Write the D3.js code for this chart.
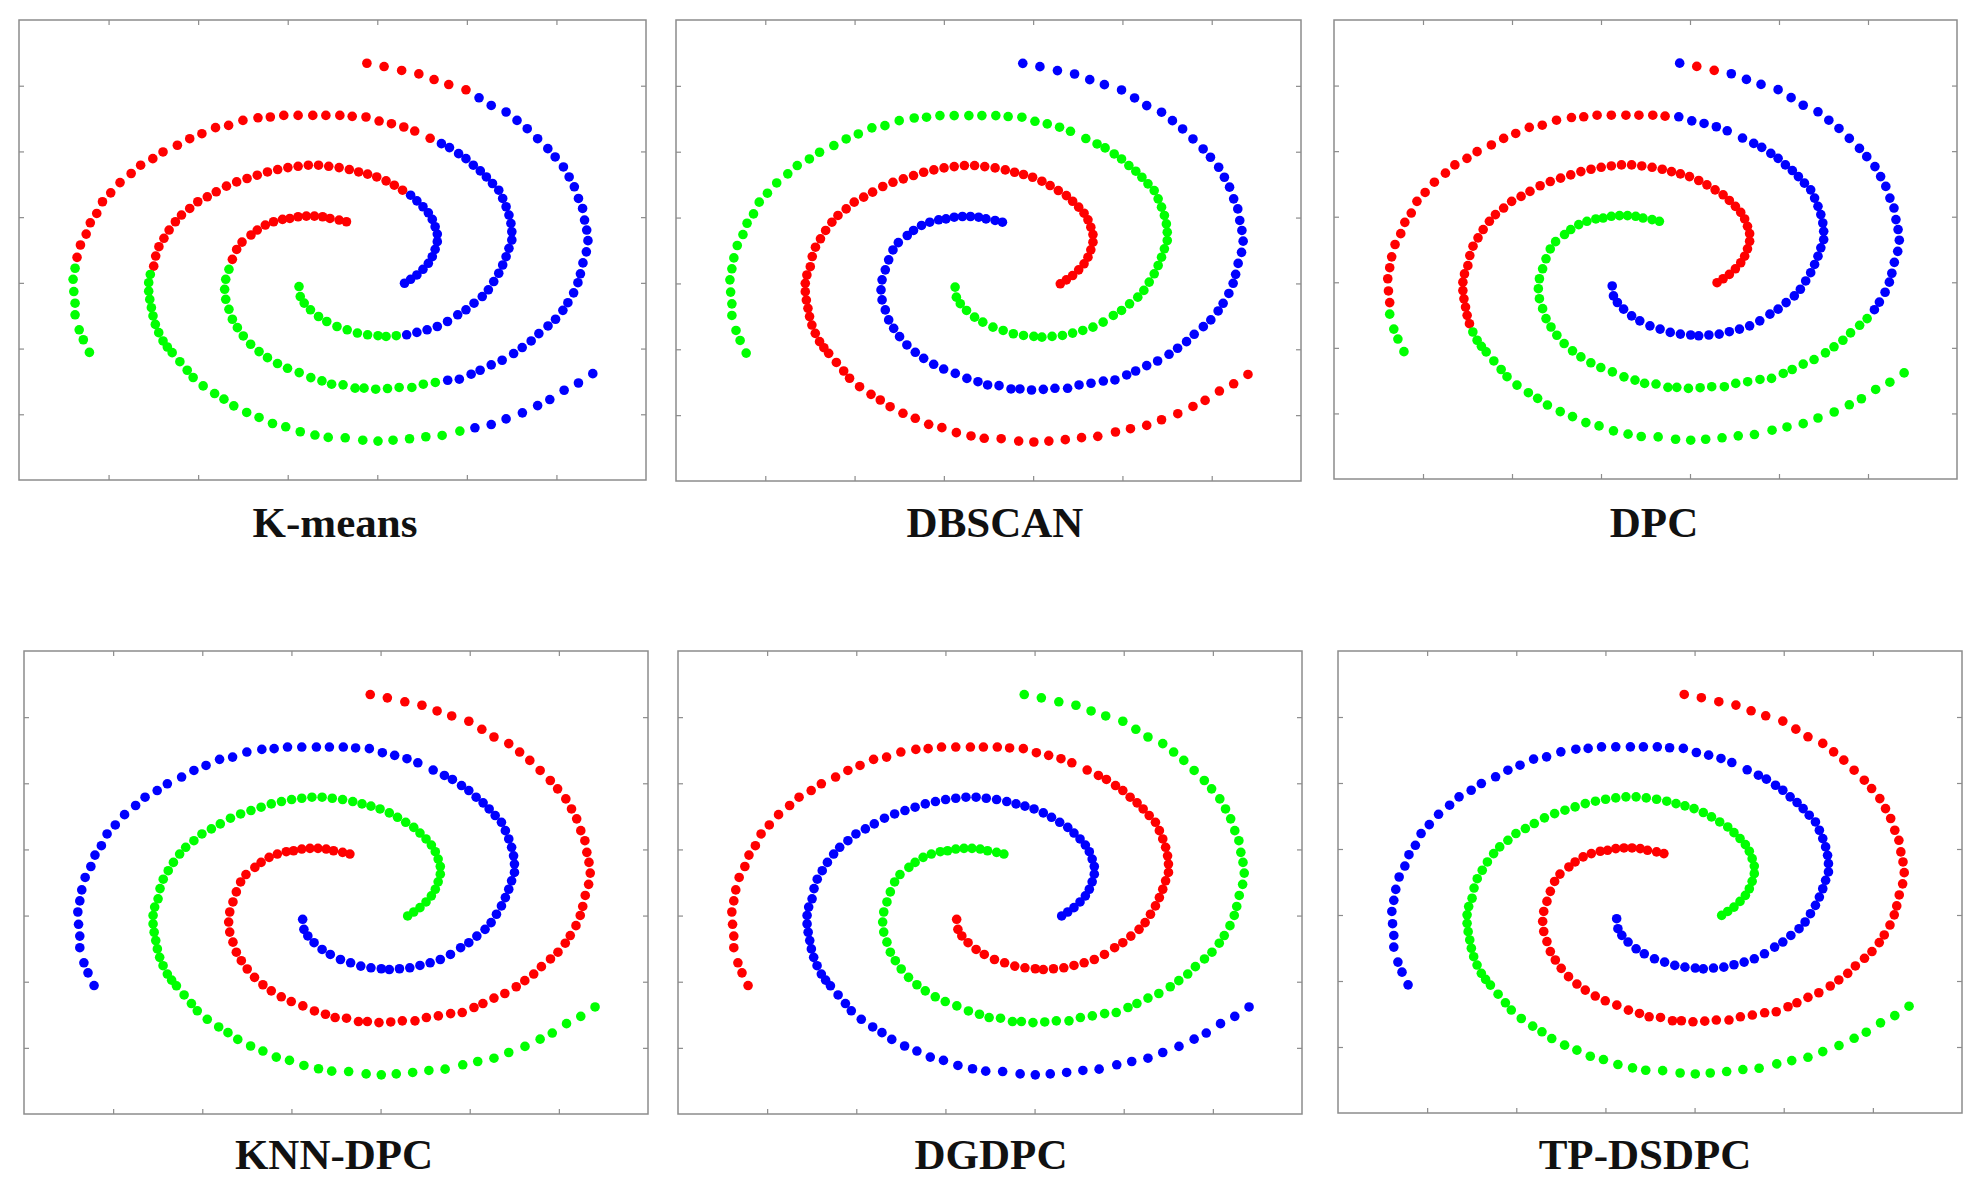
<!DOCTYPE html>
<html>
<head>
<meta charset="utf-8">
<script src="https://cdn.jsdelivr.net/npm/d3@7"></script>
<style>
  body { margin: 0; background: #fff; }
</style>
</head>
<body>
<script>
// spiral data set, three arms (x, y in data units, axes 0..35)
// arm A: from the outer tip (top right) in to the centre
var spiralA = [
  [19.42,31.71],[20.38,31.46],[21.36,31.16],[22.32,30.90],[23.17,30.47],[23.99,30.09],[24.95,29.69],[25.68,29.08],[26.36,28.50],[27.19,28.00],
  [27.80,27.36],[28.37,26.73],[28.95,25.97],[29.52,25.21],[29.93,24.58],[30.39,23.82],[30.71,23.06],[31.00,22.31],[31.23,21.42],[31.46,20.66],
  [31.57,19.78],[31.69,19.02],[31.76,18.21],[31.67,17.36],[31.48,16.52],[31.34,15.69],[31.20,15.01],[30.96,14.24],[30.64,13.49],[30.36,12.91],
  [29.95,12.23],[29.53,11.72],[29.02,11.14],[28.59,10.58],[28.09,10.08],[27.61,9.62],[26.97,9.11],[26.36,8.76],[25.74,8.35],[25.24,8.05],
  [24.58,7.67],[23.93,7.59],[23.24,7.42],[22.57,7.29],[21.93,7.04],[21.22,7.04],[20.57,6.96],[19.91,6.91],[19.26,6.99],[18.76,6.99],
  [18.09,7.24],[17.45,7.29],[16.91,7.54],[16.29,7.79],[15.64,8.17],[14.99,8.50],[14.43,8.86],[13.87,9.31],[13.40,9.77],[12.93,10.33],
  [12.52,10.96],[12.19,11.59],[11.91,12.23],[11.72,12.99],[11.54,13.75],[11.48,14.51],[11.54,15.27],[11.72,16.03],[11.91,16.79],[12.15,17.54],
  [12.45,18.10],[12.95,18.64],[13.30,19.02],[13.75,19.40],[14.21,19.65],[14.71,19.83],[15.12,19.90],[15.58,20.03],[16.04,20.08],[16.49,20.08],
  [16.95,20.03],[17.36,19.90],[17.87,19.78],[18.28,19.65]
];
// arm B: from the centre out to the tip on the left
var spiralB = [
  [15.63,14.72],[15.70,13.96],[15.92,13.46],[16.27,12.95],[16.72,12.44],[17.18,12.06],[17.75,11.68],[18.32,11.43],[18.89,11.18],[19.46,11.05],
  [20.04,10.98],[20.49,10.92],[21.06,10.98],[21.64,11.05],[22.21,11.23],[22.78,11.43],[23.35,11.68],[23.92,12.06],[24.49,12.57],[24.95,12.95],
  [25.40,13.45],[25.86,13.96],[26.20,14.47],[26.50,15.10],[26.78,15.73],[27.00,16.36],[27.19,16.99],[27.35,17.63],[27.51,18.26],[27.51,18.89],
  [27.46,19.52],[27.35,20.16],[27.19,20.79],[27.00,21.42],[26.78,22.05],[26.43,22.56],[26.09,23.06],[25.75,23.52],[25.36,23.95],[24.95,24.45],
  [24.54,24.83],[24.03,25.29],[23.58,25.59],[22.95,26.00],[22.09,26.55],[21.48,26.86],[20.79,27.11],[20.10,27.31],[19.37,27.62],[18.60,27.67],
  [17.91,27.74],[17.13,27.74],[16.40,27.74],[15.58,27.74],[14.78,27.74],[14.03,27.62],[13.34,27.56],[12.50,27.36],[11.70,26.98],[10.97,26.81],
  [10.21,26.35],[9.53,25.97],[8.84,25.47],[8.04,24.96],[7.47,24.45],[6.79,23.95],[6.26,23.32],[5.64,22.63],[5.12,21.85],[4.66,21.17],
  [4.34,20.28],[3.98,19.57],[3.75,18.71],[3.43,17.88],[3.24,16.94],[3.13,16.11],[3.02,15.27],[3.06,14.34],[3.13,13.45],[3.13,12.57],
  [3.36,11.43],[3.59,10.67],[3.93,9.71]
];
// arm C: from the centre out to the tip at bottom right
var spiralC = [
  [21.52,14.97],[21.86,15.27],[22.21,15.60],[22.55,16.03],[22.85,16.49],[23.07,16.99],[23.23,17.55],[23.35,18.13],[23.35,18.71],[23.23,19.27],
  [23.07,19.83],[22.85,20.33],[22.55,20.79],[22.21,21.24],[21.86,21.67],[21.41,22.05],[20.95,22.43],[20.49,22.76],[19.97,23.06],[19.46,23.27],
  [18.96,23.44],[18.44,23.62],[17.87,23.77],[17.29,23.87],[16.72,23.95],[16.15,23.95],[15.58,23.87],[15.01,23.77],[14.44,23.62],[13.87,23.44],
  [13.30,23.19],[12.73,22.94],[12.15,22.68],[11.58,22.36],[11.01,21.93],[10.51,21.55],[9.98,21.17],[9.53,20.66],[9.07,20.16],[8.73,19.65],
  [8.38,19.02],[8.09,18.39],[7.81,17.75],[7.63,17.04],[7.52,16.27],[7.33,15.64],[7.24,15.01],[7.24,14.37],[7.30,13.74],[7.39,13.11],
  [7.48,12.48],[7.61,11.84],[7.80,11.21],[8.04,10.58],[8.28,10.12],[8.55,9.69],[8.98,9.00],[9.39,8.35],[9.72,7.80],[10.28,7.16],
  [10.92,6.58],[11.44,6.15],[11.99,5.64],[12.71,5.14],[13.40,4.76],[14.15,4.30],[14.89,4.05],[15.70,3.67],[16.52,3.42],[17.26,3.24],
  [18.21,3.21],[19.19,3.03],[20.04,2.96],[20.88,3.03],[21.80,3.14],[22.71,3.29],[23.62,3.39],[24.61,3.72],[25.45,3.97],[26.36,4.22],
  [27.19,4.65],[28.10,5.11],[28.95,5.66],[29.63,6.12],[30.43,6.83],[31.23,7.38],[32.03,8.09]
];

var methods = ["K-means", "DBSCAN", "DPC", "KNN-DPC", "DGDPC", "TP-DSDPC"];

// cluster labels along each arm, as runs of [count, cluster], one entry per method
var labelsA = [
  [[7,"r"],[35,"b"],[26,"g"],[16,"r"]],
  [[84,"b"]],
  [[1,"b"],[2,"r"],[27,"b"],[54,"g"]],
  [[84,"r"]],
  [[84,"g"]],
  [[84,"r"]]
];
var labelsB = [
  [[13,"g"],[30,"b"],[32,"r"],[8,"g"]],
  [[83,"g"]],
  [[49,"b"],[30,"r"],[4,"g"]],
  [[83,"b"]],
  [[83,"r"]],
  [[83,"b"]]
];
var labelsC = [
  [[15,"b"],[30,"r"],[33,"g"],[9,"b"]],
  [[87,"r"]],
  [[52,"r"],[35,"g"]],
  [[87,"g"]],
  [[87,"b"]],
  [[87,"g"]]
];

var tickValues = [5, 10, 15, 20, 25, 30];

var colour = { r: "#ff0000", g: "#00ff00", b: "#0000ff" };

// panel boxes on the page (pixels)
var panels = [
  { x0: 19,   x1: 646,  y0: 20,  y1: 480,  tx: 335,  ty: 537 },
  { x0: 676,  x1: 1301, y0: 20,  y1: 481,  tx: 995,  ty: 537 },
  { x0: 1334, x1: 1957, y0: 20,  y1: 479,  tx: 1654, ty: 537 },
  { x0: 24,   x1: 648,  y0: 651, y1: 1114, tx: 334,  ty: 1169 },
  { x0: 678,  x1: 1302, y0: 651, y1: 1114, tx: 991,  ty: 1169 },
  { x0: 1338, x1: 1962, y0: 651, y1: 1113, tx: 1645, ty: 1169 }
];

function expand(runs) {
  var out = [];
  runs.forEach(function(r) {
    for (var i = 0; i < r[0]; i++) out.push(r[1]);
  });
  return out;
}

var svg = d3.select("body").append("svg")
    .attr("width", 1983).attr("height", 1192);

panels.forEach(function(p, k) {
  var x = d3.scaleLinear().domain([0, 35]).range([p.x0, p.x1]);
  var y = d3.scaleLinear().domain([0, 35]).range([p.y1, p.y0]);

  var g = svg.append("g");

  // frame
  g.append("rect")
    .attr("x", p.x0).attr("y", p.y0)
    .attr("width", p.x1 - p.x0).attr("height", p.y1 - p.y0)
    .attr("fill", "none")
    .attr("stroke", "#8c8c8c")
    .attr("stroke-width", 1.5);

  // inward ticks on all four sides, no labels
  var axes = g.append("g").attr("class", "axes");
  axes.append("g").attr("transform", `translate(0, ${p.y1})`)
    .call(d3.axisBottom(x).tickValues(tickValues).tickSize(-5).tickFormat(""));
  axes.append("g").attr("transform", `translate(0, ${p.y0})`)
    .call(d3.axisTop(x).tickValues(tickValues).tickSize(-5).tickFormat(""));
  axes.append("g").attr("transform", `translate(${p.x0}, 0)`)
    .call(d3.axisLeft(y).tickValues(tickValues).tickSize(-5).tickFormat(""));
  axes.append("g").attr("transform", `translate(${p.x1}, 0)`)
    .call(d3.axisRight(y).tickValues(tickValues).tickSize(-5).tickFormat(""));
  axes.selectAll(".domain").remove();
  axes.selectAll(".tick line").attr("stroke", "#8c8c8c").attr("stroke-width", 1.2);

  // points
  var rows = [];
  [[spiralA, labelsA], [spiralB, labelsB], [spiralC, labelsC]].forEach(function(s) {
    var lab = expand(s[1][k]);
    s[0].forEach(function(d, i) {
      rows.push({ x: d[0], y: d[1], c: lab[i] });
    });
  });

  g.selectAll("circle")
    .data(rows)
    .enter()
    .append("circle")
    .attr("cx", d => x(d.x))
    .attr("cy", d => y(d.y))
    .attr("r", 4.8)
    .attr("fill", d => colour[d.c]);

  // method name under the panel
  svg.append("text")
    .attr("x", p.tx)
    .attr("y", p.ty)
    .attr("text-anchor", "middle")
    .style("font-family", "'Liberation Serif', 'Times New Roman', serif")
    .style("font-weight", "bold")
    .style("font-size", "43px")
    .attr("fill", "#111")
    .text(methods[k]);
});
</script>
</body>
</html>
